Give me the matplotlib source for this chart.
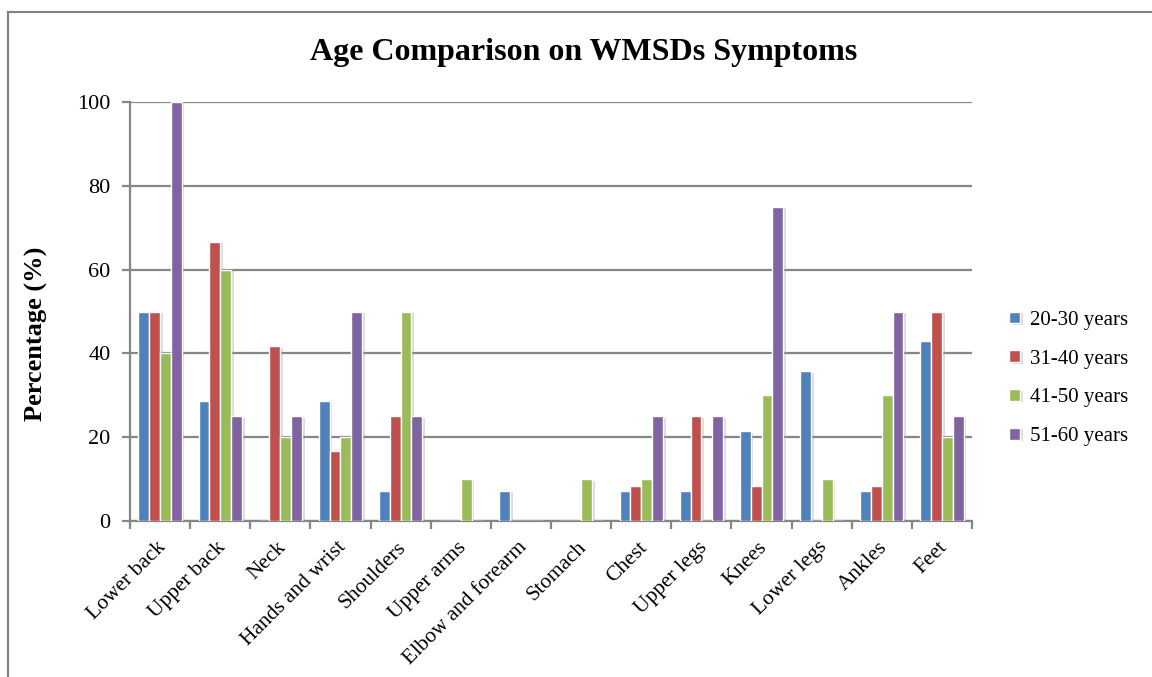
import matplotlib.pyplot as plt
import matplotlib.patheffects as pe
from matplotlib.lines import Line2D
import numpy as np

plt.rcParams['font.family'] = ['Liberation Serif', 'DejaVu Serif']

categories = ['Lower back', 'Upper back', 'Neck', 'Hands and wrist', 'Shoulders',
              'Upper arms', 'Elbow and forearm', 'Stomach', 'Chest', 'Upper legs',
              'Knees', 'Lower legs', 'Ankles', 'Feet']
age_20_30 = [50, 28.57, 0, 28.57, 7.14, 0, 7.14, 0, 7.14, 7.14, 21.43, 35.71, 7.14, 42.86]
age_31_40 = [50, 66.67, 41.67, 16.67, 25, 0, 0, 0, 8.33, 25, 8.33, 0, 8.33, 50]
age_41_50 = [40, 60, 20, 20, 50, 10, 0, 10, 10, 0, 30, 10, 30, 20]
age_51_60 = [100, 25, 25, 50, 25, 0, 0, 0, 25, 25, 75, 0, 50, 25]
series = [('20-30 years', age_20_30, '#4F81BD'),
          ('31-40 years', age_31_40, '#C0504D'),
          ('41-50 years', age_41_50, '#9BBB59'),
          ('51-60 years', age_51_60, '#8064A2')]

fig = plt.figure(figsize=(11.52, 6.77), dpi=100)
ax = fig.add_axes([0.1128, 0.2304, 0.7310, 0.6189])

x = np.arange(len(categories))
w = 0.18
shadow = [pe.SimplePatchShadow(offset=(2, -1), shadow_rgbFace='#999999', alpha=0.35), pe.Normal()]
for i, (name, vals, col) in enumerate(series):
    bars = ax.bar(x + (i - 1.5) * w, vals, w, color=col, edgecolor='white',
                  linewidth=1.0, label=name, zorder=3)
    for b in bars:
        if b.get_height() > 0:
            b.set_path_effects(shadow)

ax.set_xlim(-0.5, len(categories) - 0.5)
ax.set_ylim(0, 100)
ax.set_yticks(range(0, 101, 20))
ax.yaxis.grid(True, color='#868686', linewidth=1.6, zorder=0)
ax.set_axisbelow(True)

ax.set_xticks(np.arange(-0.5, len(categories), 1))
ax.set_xticklabels([])
ax.set_xticks(x + 0.05, minor=True)
ax.set_xticklabels(categories, minor=True, rotation=45, ha='right', va='center',
                   rotation_mode='anchor', fontsize=15.5)
ax.tick_params(axis='x', which='minor', length=0, pad=17)
ax.tick_params(axis='x', which='major', length=6, width=1.6, color='#868686')
ax.tick_params(axis='y', length=6, width=1.6, color='#868686', labelsize=16, pad=8)

for s in ['top', 'right']:
    ax.spines[s].set_visible(False)
for s in ['left', 'bottom']:
    ax.spines[s].set_color('#868686')
    ax.spines[s].set_linewidth(1.6)

ax.set_ylabel('Percentage (%)', fontsize=19, fontweight='bold')
ax.yaxis.set_label_coords(-0.097, 0.446)
fig.text(0.507, 0.922, 'Age Comparison on WMSDs Symptoms', ha='center', va='center',
         fontsize=23, fontweight='bold')

leg = ax.legend(loc='center left', bbox_to_anchor=(1.022, 0.34), frameon=False,
                fontsize=15, handlelength=0.5, handleheight=0.5, handletextpad=0.5,
                labelspacing=0.95)

# outer frame
fig.add_artist(Line2D([8 / 1152, 8 / 1152], [0, 1 - 12 / 677], color='#808080', lw=1.5))
fig.add_artist(Line2D([8 / 1152, 1], [1 - 12 / 677, 1 - 12 / 677], color='#808080', lw=1.5))

fig.savefig('out.png', dpi=100)
